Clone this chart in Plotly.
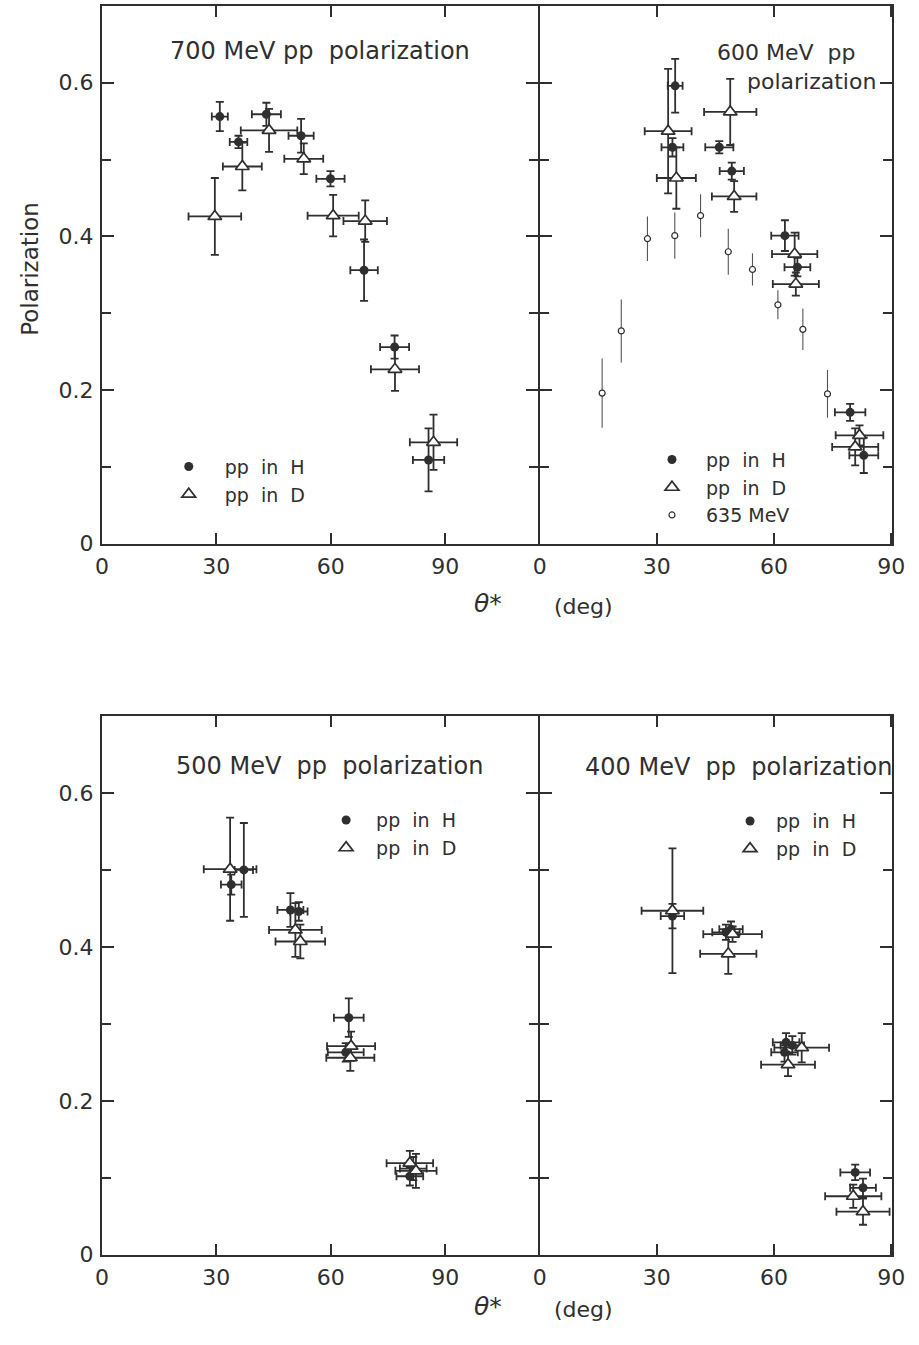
import plotly.graph_objects as go

W, H = 919, 1345
INK = "#2f2f2f"
FONT = "DejaVu Sans"

# ---------------- data (theta* in deg, polarization) ----------------
# 700 MeV
h700_theta = [30.9, 35.8, 43.1, 52.2, 59.9, 68.7, 76.7, 85.6]
h700_pol = [0.556, 0.523, 0.559, 0.531, 0.475, 0.356, 0.256, 0.109]
h700_dtheta = [2.1, 2.3, 3.8, 3.3, 3.7, 3.6, 3.8, 4.1]
h700_dpol = [0.019, 0.008, 0.015, 0.022, 0.010, 0.040, 0.015, 0.041]
d700_theta = [29.6, 36.8, 43.8, 52.9, 60.6, 69.0, 76.8, 86.9]
d700_pol = [0.426, 0.491, 0.538, 0.501, 0.427, 0.420, 0.227, 0.132]
d700_dtheta = [6.9, 5.1, 7.4, 5.1, 6.7, 5.7, 6.3, 6.2]
d700_dpol = [0.050, 0.031, 0.028, 0.020, 0.027, 0.027, 0.028, 0.036]

# 600 MeV
h600_theta = [34.7, 34.0, 46.0, 49.2, 62.8, 66.0, 79.5, 83.0]
h600_pol = [0.596, 0.516, 0.516, 0.485, 0.401, 0.360, 0.171, 0.115]
h600_dtheta = [1.9, 2.8, 3.6, 3.1, 3.5, 3.3, 3.9, 3.7]
h600_dpol = [0.035, 0.012, 0.008, 0.011, 0.020, 0.012, 0.011, 0.023]
d600_theta = [32.9, 35.0, 48.8, 49.8, 65.3, 65.6, 81.9, 80.8]
d600_pol = [0.537, 0.476, 0.562, 0.452, 0.377, 0.338, 0.141, 0.126]
d600_dtheta = [6.0, 5.0, 6.7, 5.7, 5.8, 5.9, 6.1, 5.9]
d600_dpol = [0.081, 0.040, 0.043, 0.020, 0.028, 0.015, 0.013, 0.024]
p635_theta = [16.0, 20.9, 27.6, 34.6, 41.2, 48.3, 54.5, 61.0, 67.4, 73.7]
p635_pol = [0.196, 0.277, 0.397, 0.401, 0.427, 0.380, 0.357, 0.311, 0.279, 0.195]
p635_dpol = [0.045, 0.041, 0.029, 0.030, 0.028, 0.030, 0.021, 0.019, 0.027, 0.031]

# 500 MeV
h500_theta = [33.9, 37.2, 49.4, 51.6, 64.7, 63.9, 80.7, 81.6]
h500_pol = [0.481, 0.500, 0.448, 0.446, 0.308, 0.263, 0.102, 0.112]
h500_dtheta = [2.7, 2.4, 3.4, 2.3, 3.9, 4.7, 3.5, 3.5]
h500_dpol = [0.013, 0.061, 0.022, 0.012, 0.025, 0.012, 0.012, 0.015]
d500_theta = [33.6, 50.7, 52.0, 65.3, 65.1, 80.7, 82.3]
d500_pol = [0.501, 0.422, 0.407, 0.271, 0.256, 0.119, 0.109]
d500_dtheta = [6.9, 6.9, 6.5, 6.3, 6.3, 6.1, 5.4]
d500_dpol = [0.067, 0.035, 0.022, 0.019, 0.017, 0.016, 0.022]

# 400 MeV
h400_theta = [34.0, 47.7, 49.0, 63.1, 64.7, 62.7, 80.8, 82.8]
h400_pol = [0.440, 0.419, 0.423, 0.276, 0.272, 0.263, 0.107, 0.087]
h400_dtheta = [3.0, 3.5, 3.0, 3.4, 3.0, 3.4, 3.8, 3.3]
h400_dpol = [0.016, 0.010, 0.010, 0.012, 0.012, 0.012, 0.010, 0.012]
d400_theta = [34.0, 49.4, 48.3, 67.1, 63.6, 80.3, 82.8]
d400_pol = [0.447, 0.4165, 0.391, 0.269, 0.247, 0.076, 0.056]
d400_dtheta = [7.9, 7.5, 7.2, 7.0, 6.9, 7.2, 6.8]
d400_dpol = [0.081, 0.010, 0.026, 0.019, 0.015, 0.015, 0.017]

x_tickvals = [0, 30, 60, 90]
y_tickvals = [0, 0.2, 0.4, 0.6]
y_ticktext = ["0", "0.2", "0.4", "0.6"]
y_minor = [0.1, 0.3, 0.5]

titles = ["700 MeV pp\u00a0 polarization", "600 MeV\u00a0 pp", "polarization",
          "500 MeV\u00a0 pp\u00a0 polarization", "400 MeV\u00a0 pp\u00a0 polarization"]
lbl_h = "pp\u00a0\u00a0in\u00a0\u00a0H"
lbl_d = "pp\u00a0\u00a0in\u00a0\u00a0D"
lbl_635 = "635 MeV"


def px(x):
    return x / W


def py(y):
    return 1 - y / H


fig = go.Figure()


def add_h(th, p, dth, dp, xa, ya, leg):
    fig.add_trace(go.Scatter(
        x=th, y=p, mode="markers", xaxis=xa, yaxis=ya, legend=leg, legendrank=1,
        legendgroup=leg + "h", name=lbl_h,
        marker=dict(symbol="circle", size=9, color=INK, line=dict(width=0)),
        error_x=dict(type="data", array=dth, visible=True, color=INK, thickness=1.8, width=4),
        error_y=dict(type="data", array=dp, visible=True, color=INK, thickness=1.8, width=4)))


def add_d(th, p, dth, dp, xa, ya, leg):
    fig.add_trace(go.Scatter(
        x=th, y=p, mode="markers", xaxis=xa, yaxis=ya, legend=leg, legendrank=2,
        legendgroup=leg + "d", name=lbl_d,
        marker=dict(symbol="triangle-up", size=12, color="white", line=dict(width=1.7, color=INK)),
        error_x=dict(type="data", array=dth, visible=True, color=INK, thickness=1.8, width=4),
        error_y=dict(type="data", array=dp, visible=True, color=INK, thickness=1.8, width=4)))


add_h(h700_theta, h700_pol, h700_dtheta, h700_dpol, "x", "y", "legend")
add_d(d700_theta, d700_pol, d700_dtheta, d700_dpol, "x", "y", "legend")

fig.add_trace(go.Scatter(
    x=p635_theta, y=p635_pol, mode="markers", xaxis="x2", yaxis="y2", legend="legend2",
    legendrank=3, legendgroup="l635", name=lbl_635,
    marker=dict(symbol="circle", size=6, color="white", line=dict(width=1.2, color=INK)),
    error_y=dict(type="data", array=p635_dpol, visible=True, color="#555555", thickness=1.1, width=0)))
add_h(h600_theta, h600_pol, h600_dtheta, h600_dpol, "x2", "y2", "legend2")
add_d(d600_theta, d600_pol, d600_dtheta, d600_dpol, "x2", "y2", "legend2")

add_h(h500_theta, h500_pol, h500_dtheta, h500_dpol, "x3", "y3", "legend3")
add_d(d500_theta, d500_pol, d500_dtheta, d500_dpol, "x3", "y3", "legend3")

add_h(h400_theta, h400_pol, h400_dtheta, h400_dpol, "x4", "y4", "legend4")
add_d(d400_theta, d400_pol, d400_dtheta, d400_dpol, "x4", "y4", "legend4")

# ---------------- axes ----------------
XL = [px(97), px(542.5)]
XR = [px(544.5), px(905)]
YT = [py(549), py(6)]
YB = [py(1267), py(723)]


def xax(domain, rng, anchor):
    return dict(domain=domain, range=rng, anchor=anchor, showline=True, linecolor=INK, linewidth=2,
                mirror="ticks", ticks="inside", ticklen=11, tickwidth=2, tickcolor=INK,
                tickvals=x_tickvals, showgrid=False, zeroline=False, ticklabelstandoff=2,
                tickfont=dict(family=FONT, size=22, color=INK), fixedrange=True)


def yax(domain, anchor, labels):
    return dict(domain=domain, range=[0, 0.7], anchor=anchor, showline=True, linecolor=INK, linewidth=2,
                mirror="ticks", ticks="inside", ticklen=12, tickwidth=2, tickcolor=INK,
                tickvals=y_tickvals, ticktext=y_ticktext, showticklabels=labels,
                minor=dict(tickvals=y_minor, ticks="inside", ticklen=9, tickwidth=2, tickcolor=INK),
                showgrid=False, zeroline=False, ticklabelstandoff=2,
                tickfont=dict(family=FONT, size=22, color=INK), fixedrange=True)


def leg(x, y, gap, iw):
    return dict(x=px(x), y=py(y), xanchor="left", yanchor="top", bgcolor="rgba(0,0,0,0)",
                borderwidth=0, tracegroupgap=gap, itemwidth=iw, traceorder="normal",
                font=dict(family=FONT, size=19, color=INK))


fig.update_layout(
    width=W, height=H, autosize=False,
    margin=dict(l=0, r=0, t=0, b=0),
    paper_bgcolor="white", plot_bgcolor="white",
    font=dict(family=FONT, color=INK),
    xaxis=xax(XL, [0, 114.2], "y"), yaxis=yax(YT, "x", True),
    xaxis2=xax(XR, [0, 90.3], "y2"), yaxis2=yax(YT, "x2", False),
    xaxis3=xax(XL, [0, 114.2], "y3"), yaxis3=yax(YB, "x3", True),
    xaxis4=xax(XR, [0, 90.3], "y4"), yaxis4=yax(YB, "x4", False),
    legend=leg(149, 452, 3, 62),
    legend2=leg(645, 445, 5, 58),
    legend3=leg(316, 809, 0, 50),
    legend4=leg(733, 810, 0, 42),
    showlegend=True,
)

ann = [
    (319.5, 52, titles[0], 24),
    (796, 53, titles[1], 22),
    (822, 82, titles[2], 22),
    (329.5, 773, titles[3], 24),
    (748, 774, titles[4], 24),
]
for x, y, t, s in ann:
    fig.add_annotation(x=px(x), y=py(y), xref="paper", yref="paper", text=t, showarrow=False,
                       xanchor="center", yanchor="middle", font=dict(family=FONT, size=s, color=INK))

for yy in (612, 1322):
    fig.add_annotation(x=px(492), y=py(yy - 3), xref="paper", yref="paper", text="<i>θ</i>*",
                       showarrow=False, xanchor="center", yanchor="middle",
                       font=dict(family=FONT, size=25, color=INK))
    fig.add_annotation(x=px(589), y=py(yy), xref="paper", yref="paper", text="(deg)",
                       showarrow=False, xanchor="center", yanchor="middle",
                       font=dict(family=FONT, size=22, color=INK))

fig.add_annotation(x=px(24), y=py(271), xref="paper", yref="paper", text="Polarization",
                   textangle=-90, showarrow=False, xanchor="center", yanchor="middle",
                   font=dict(family=FONT, size=23, color=INK))

fig.write_html("out.html")
